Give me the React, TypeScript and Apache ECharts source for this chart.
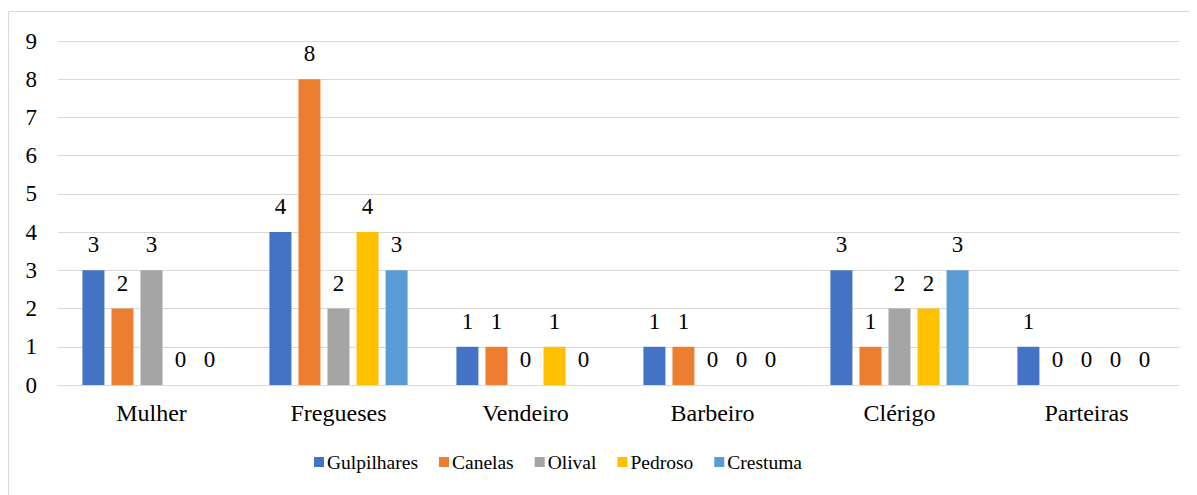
import React, { useEffect, useRef } from "react";
import * as echarts from "echarts";

const categories = ["Mulher", "Fregueses", "Vendeiro", "Barbeiro", "Clérigo", "Parteiras"];
const seriesNames = ["Gulpilhares", "Canelas", "Olival", "Pedroso", "Crestuma"];
const gulpilhares = [3, 4, 1, 1, 3, 1];
const canelas = [2, 8, 1, 1, 1, 0];
const olival = [3, 2, 0, 0, 2, 0];
const pedroso = [0, 4, 1, 0, 2, 0];
const crestuma = [0, 3, 0, 0, 3, 0];
const colors = ["#4472C4", "#ED7D31", "#A5A5A5", "#FFC000", "#5B9BD5"];
const yTicks = [0, 1, 2, 3, 4, 5, 6, 7, 8, 9];

const FONT = "Times New Roman";

export default function App() {
  const ref = useRef<HTMLDivElement>(null);
  useEffect(() => {
    if (!ref.current) return;
    const chart = echarts.init(ref.current, undefined, { renderer: "svg" });
    const values = [gulpilhares, canelas, olival, pedroso, crestuma];
    chart.setOption({
      animation: false,
      color: colors,
      textStyle: { fontFamily: FONT },
      graphic: [
        {
          type: "rect",
          shape: { x: 0.5, y: 3.5, width: 1200, height: 500 },
          style: { fill: "none", stroke: "#D9D9D9", lineWidth: 1 },
          silent: true,
        },
      ],
      grid: { left: 50, right: 17, top: 33, bottom: 110, containLabel: false },
      legend: {
        data: seriesNames,
        bottom: 18,
        left: 301,
        itemWidth: 10,
        itemHeight: 10,
        itemGap: 21,
        icon: "rect",
        textStyle: { fontFamily: FONT, fontSize: 19.5, color: "#000", padding: [0, 0, 0, -2] },
      },
      xAxis: {
        type: "category",
        data: categories,
        axisLine: { show: true, lineStyle: { color: "#D9D9D9", width: 1 } },
        axisTick: { show: false },
        axisLabel: { fontFamily: FONT, fontSize: 24, color: "#000", margin: 16 },
      },
      yAxis: {
        type: "value",
        min: yTicks[0],
        max: yTicks[yTicks.length - 1],
        interval: 1,
        axisLine: { show: false },
        axisTick: { show: false },
        splitLine: { lineStyle: { color: "#D9D9D9", width: 1 } },
        axisLabel: { fontFamily: FONT, fontSize: 23, color: "#000", margin: 21 },
      },
      series: seriesNames.map((name, i) => ({
        name,
        type: "bar",
        data: values[i],
        barWidth: 22,
        barGap: "32%",
        barCategoryGap: "26%",
        label: {
          show: true,
          position: "top",
          distance: 14,
          fontFamily: FONT,
          fontSize: 23,
          color: "#000",
        },
      })),
    });
    return () => chart.dispose();
  }, []);
  return <div ref={ref} style={{ width: 1189, height: 487 }} />;
}
